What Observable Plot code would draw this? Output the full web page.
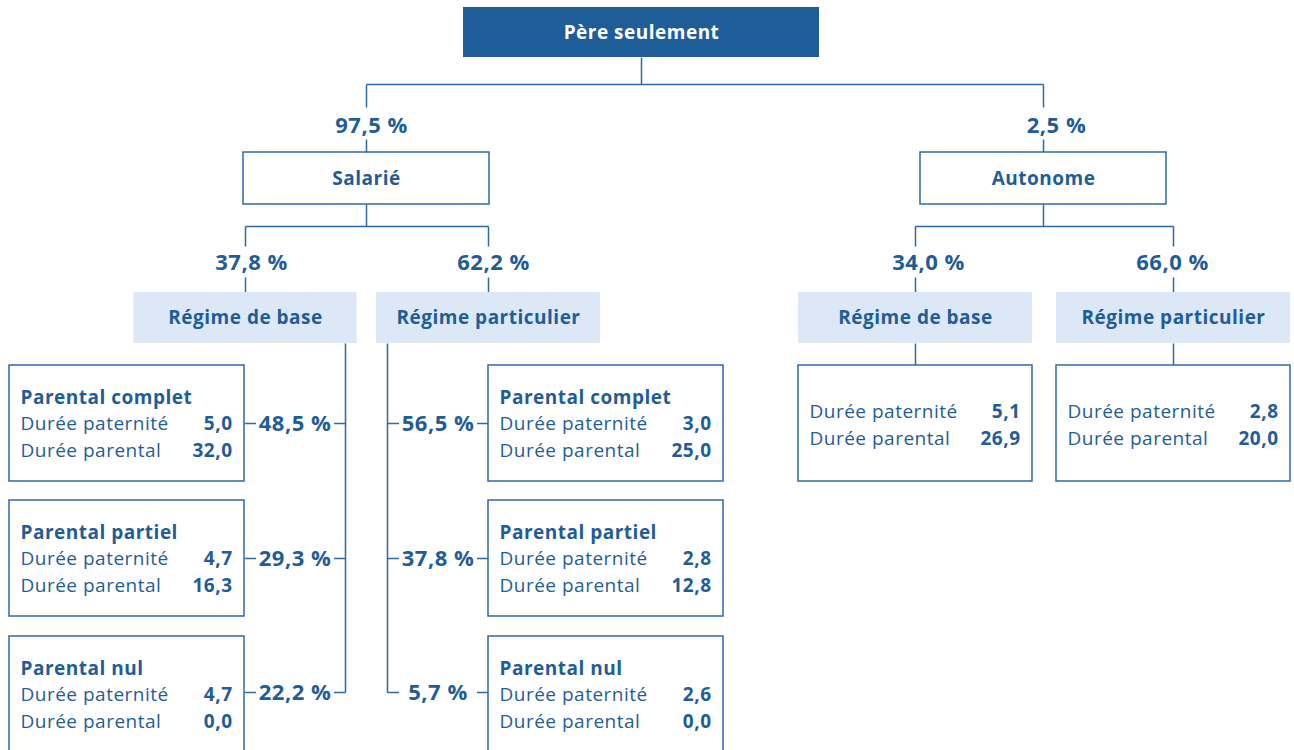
<!DOCTYPE html>
<html><head><meta charset="utf-8">
<script src="https://cdn.jsdelivr.net/npm/d3@7"></script>
<script src="https://cdn.jsdelivr.net/npm/@observablehq/plot@0.6"></script>
<style>body{margin:0;background:#fff;overflow:hidden} svg text{letter-spacing:0.5px}</style>
</head><body><div id="chart"></div>
<script>
// ---------- DATA ----------
const rootLabel = "Père seulement";
const statusLabels = ["Salarié", "Autonome"];
const statusShares = [97.5, 2.5];
const regimeLabels = ["Régime de base", "Régime particulier"];
const salarieRegimeShares = [37.8, 62.2];
const autonomeRegimeShares = [34.0, 66.0];
const parentalLabels = ["Parental complet", "Parental partiel", "Parental nul"];
const salarieBaseShares = [48.5, 29.3, 22.2];
const salariePartShares = [56.5, 37.8, 5.7];
const salarieBasePaternite = [5.0, 4.7, 4.7];
const salarieBaseParental = [32.0, 16.3, 0.0];
const salariePartPaternite = [3.0, 2.8, 2.6];
const salariePartParental = [25.0, 12.8, 0.0];
const autonomePaternite = [5.1, 2.8];
const autonomeParental = [26.9, 20.0];
const rowLabels = ["Durée paternité", "Durée parental"];

// ---------- STYLE / LAYOUT ----------
const DARK = "#1F5D99", LINE = "#2E69A4", LIGHT = "#DCE8F6", TEXT = "#1F5D99";
const FONT = "'Open Sans', 'Noto Sans', sans-serif";
const fmt = v => v.toFixed(1).replace(".", ",");
const pct = v => fmt(v) + " %";

const L = {
  root: {cx: 641, w: 356, y1: 7, y2: 57},
  bus1: 84,
  status: {cx: [366, 1043], w: 246, y1: 152, y2: 204, labelY: 125, gapTop: 107, labelDx: [5, 13]},
  bus2: 226,
  regime: {cx: [[245, 488], [915, 1173]], w: [[223, 224], [234, 234]], y1: 292, y2: 343,
           labelY: 262, gapTop: 246, gapBot: 277, labelDx: [[6, 5], [13, -1]]},
  leaf: {x1: [9, 488], w: 235, top: [365, 500, 636], h: 116, trunkX: [345, 387]},
  auto: {x1: [798, 1056], w: 234, top: 365, h: 116}
};

const darkRects = [], outlineRects = [], lightRects = [], links = [];
const whiteText = [], boldTitles = [], pctLabels = [], rowText = [], valueText = [];

// root
const r = L.root;
darkRects.push({x1: r.cx - r.w/2, x2: r.cx + r.w/2, y1: r.y1, y2: r.y2});
whiteText.push({x: r.cx, y: (r.y1 + r.y2)/2, t: rootLabel});
links.push({x1: r.cx, y1: r.y2, x2: r.cx, y2: L.bus1});
links.push({x1: L.status.cx[0], y1: L.bus1, x2: L.status.cx[1], y2: L.bus1});

statusLabels.forEach((s, i) => {
  const S = L.status, cx = S.cx[i];
  links.push({x1: cx, y1: L.bus1, x2: cx, y2: S.gapTop});
  links.push({x1: cx, y1: S.labelY + 14, x2: cx, y2: S.y1});
  pctLabels.push({x: cx + S.labelDx[i], y: S.labelY, t: pct(statusShares[i])});
  outlineRects.push({x1: cx - S.w/2, x2: cx + S.w/2, y1: S.y1, y2: S.y2});
  boldTitles.push({x: cx, y: (S.y1 + S.y2)/2, t: s, a: "middle"});
  const R = L.regime, rc = R.cx[i];
  links.push({x1: cx, y1: S.y2, x2: cx, y2: L.bus2});
  links.push({x1: rc[0], y1: L.bus2, x2: rc[1], y2: L.bus2});
  const shares = i === 0 ? salarieRegimeShares : autonomeRegimeShares;
  regimeLabels.forEach((g, j) => {
    links.push({x1: rc[j], y1: L.bus2, x2: rc[j], y2: R.gapTop});
    links.push({x1: rc[j], y1: R.gapBot, x2: rc[j], y2: R.y1});
    pctLabels.push({x: rc[j] + R.labelDx[i][j], y: R.labelY, t: pct(shares[j])});
    const w = R.w[i][j];
    lightRects.push({x1: rc[j] - w/2, x2: rc[j] + w/2, y1: R.y1, y2: R.y2});
    boldTitles.push({x: rc[j], y: (R.y1 + R.y2)/2, t: g, a: "middle"});
  });
});

// salarié leaves
const Lf = L.leaf;
const salShares = [salarieBaseShares, salariePartShares];
const salPat = [salarieBasePaternite, salariePartPaternite];
const salPar = [salarieBaseParental, salariePartParental];
[0, 1].forEach(j => {
  const tx = Lf.trunkX[j];
  const bx1 = Lf.x1[j], bx2 = bx1 + Lf.w;
  const lastY = Lf.top[2] + 56;
  links.push({x1: tx, y1: L.regime.y2, x2: tx, y2: lastY});
  parentalLabels.forEach((p, k) => {
    const top = Lf.top[k], ty = top + (k === 2 ? 56 : 58);
    outlineRects.push({x1: bx1, x2: bx2, y1: top, y2: top + Lf.h});
    const edge = j === 0 ? bx2 : bx1;
    const mid = (edge + tx) / 2;
    const near = j === 0 ? [edge, mid - 39] : [mid + 39, edge];
    const far = j === 0 ? [mid + 39, tx] : [tx, mid - 39];
    links.push({x1: near[0], y1: ty, x2: near[1], y2: ty});
    links.push({x1: far[0], y1: ty, x2: far[1], y2: ty});
    pctLabels.push({x: mid, y: ty, t: pct(salShares[j][k])});
    boldTitles.push({x: bx1 + 11, y: top + 32, t: p, a: "start"});
    rowText.push({x: bx1 + 11, y: top + 58, t: rowLabels[0]});
    rowText.push({x: bx1 + 11, y: top + 85, t: rowLabels[1]});
    valueText.push({x: bx2 - 12, y: top + 58, t: fmt(salPat[j][k])});
    valueText.push({x: bx2 - 12, y: top + 85, t: fmt(salPar[j][k])});
  });
});

// autonome leaves
const A = L.auto;
[0, 1].forEach(j => {
  const bx1 = A.x1[j], bx2 = bx1 + A.w, cx = L.regime.cx[1][j];
  links.push({x1: cx, y1: L.regime.y2, x2: cx, y2: A.top});
  outlineRects.push({x1: bx1, x2: bx2, y1: A.top, y2: A.top + A.h});
  rowText.push({x: bx1 + 11, y: A.top + 46, t: rowLabels[0]});
  rowText.push({x: bx1 + 11, y: A.top + 73, t: rowLabels[1]});
  valueText.push({x: bx2 - 12, y: A.top + 46, t: fmt(autonomePaternite[j])});
  valueText.push({x: bx2 - 12, y: A.top + 73, t: fmt(autonomeParental[j])});
});

const chart = Plot.plot({
  width: 1294, height: 750, margin: 0,
  style: {fontFamily: FONT, background: "#fff"},
  x: {domain: [0, 1294], range: [0, 1294], axis: null},
  y: {domain: [0, 750], range: [0, 750], axis: null},
  marks: [
    Plot.link(links, {x1: "x1", y1: "y1", x2: "x2", y2: "y2", stroke: LINE, strokeWidth: 1.5}),
    Plot.rect(darkRects, {x1: "x1", x2: "x2", y1: "y1", y2: "y2", fill: DARK}),
    Plot.rect(lightRects, {x1: "x1", x2: "x2", y1: "y1", y2: "y2", fill: LIGHT}),
    Plot.rect(outlineRects, {x1: "x1", x2: "x2", y1: "y1", y2: "y2", fill: "white", stroke: LINE, strokeWidth: 1.5}),
    Plot.text(whiteText, {x: "x", y: "y", text: "t", fill: "white", fontSize: 19, fontWeight: "bold", fontFamily: FONT}),
    Plot.text(boldTitles.filter(d => d.a === "middle"), {x: "x", y: "y", text: "t", fill: TEXT, fontSize: 19, fontWeight: "bold", fontFamily: FONT}),
    Plot.text(boldTitles.filter(d => d.a === "start"), {x: "x", y: "y", text: "t", fill: TEXT, fontSize: 19, fontWeight: "bold", textAnchor: "start", fontFamily: FONT}),
    Plot.text(pctLabels, {x: "x", y: "y", text: "t", fill: TEXT, fontSize: 22, fontWeight: "bold", fontFamily: FONT}),
    Plot.text(rowText, {x: "x", y: "y", text: "t", fill: TEXT, fontSize: 19, textAnchor: "start", fontFamily: FONT}),
    Plot.text(valueText, {x: "x", y: "y", text: "t", fill: TEXT, fontSize: 19, fontWeight: "bold", textAnchor: "end", fontFamily: FONT})
  ]
});
document.getElementById("chart").append(chart);
</script>
</body></html>
